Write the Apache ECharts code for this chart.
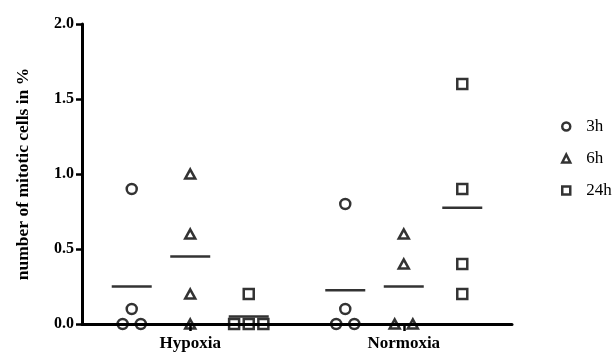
<!DOCTYPE html>
<html>
<head>
<meta charset="utf-8">
<script src="https://cdn.jsdelivr.net/npm/echarts@6/dist/echarts.min.js"></script>
<style>
  html, body { margin: 0; padding: 0; background: #fff; }
  #chart { width: 616px; height: 353px; }
</style>
</head>
<body>
<div id="chart"></div>
<script>
// groups on the x axis and the time points inside each group
const conditions = ['Hypoxia', 'Normoxia']
const times = ['3h', '6h', '24h']
const groupStart = [0.85, 4.5]

// mitotic cells in %, one list per condition (Hypoxia, Normoxia)
const values3h = [[0.9, 0.1, 0, 0], [0.8, 0.1, 0, 0]]
const values6h = [[1.0, 0.6, 0.2, 0], [0.6, 0.4, 0, 0]]
const values24h = [[0.2, 0, 0, 0], [1.6, 0.9, 0.4, 0.2]]

const yTicks = [0, 0.5, 1.0, 1.5, 2.0]

const font = 'Liberation Serif'
const symbols = ['circle', 'triangle', 'rect']
const symbolSizes = [10, [10, 9], 10]
const allValues = [values3h, values6h, values24h]

// spread points with equal values side by side
function spread (vals, center) {
  const out = []
  const seen = {}
  vals.forEach(v => {
    const n = vals.filter(w => w === v).length
    const k = seen[v] || 0
    seen[v] = k + 1
    const step = n > 2 ? 0.25 : 0.31
    out.push([center + (k - (n - 1) / 2) * step, v])
  })
  return out
}

const pointSeries = times.map((t, ti) => {
  let data = []
  conditions.forEach((c, ci) => {
    data = data.concat(spread(allValues[ti][ci], groupStart[ci] + ti))
  })
  return {
    name: t,
    type: 'scatter',
    symbol: symbols[ti],
    symbolSize: symbolSizes[ti],
    itemStyle: { color: 'rgba(0,0,0,0)', borderColor: '#000', borderWidth: 2.5 },
    emphasis: { disabled: true },
    data: data,
    z: 5
  }
})

const meanData = []
times.forEach((t, ti) => {
  conditions.forEach((c, ci) => {
    const v = allValues[ti][ci]
    meanData.push([groupStart[ci] + ti, v.reduce((a, b) => a + b, 0) / v.length])
  })
})

const option = {
  animation: false,
  backgroundColor: '#fff',
  grid: { left: 82, right: 104, top: 24, bottom: 29 },
  legend: {
    orient: 'vertical',
    left: 556,
    top: 113,
    itemWidth: 8,
    itemHeight: 8,
    itemGap: 15,
    data: times,
    itemStyle: { color: 'rgba(0,0,0,0)', borderColor: '#000', borderWidth: 2.5 },
    textStyle: { fontFamily: font, fontSize: 17, color: '#000', padding: [0, 0, 0, 11] },
    selectedMode: false
  },
  xAxis: {
    type: 'value',
    min: 0,
    max: 7.35,
    splitLine: { show: false },
    axisLine: { lineStyle: { color: '#000', width: 3 } },
    axisTick: {
      show: true,
      customValues: groupStart.map(s => s + 1),
      length: 7,
      lineStyle: { color: '#000', width: 2.5 }
    },
    axisLabel: {
      customValues: groupStart.map(s => s + 1),
      formatter: v => conditions[groupStart.findIndex(s => Math.abs(s + 1 - v) < 0.01)] || '',
      margin: 11,
      fontFamily: font,
      fontWeight: 'bold',
      fontSize: 17,
      color: '#000'
    }
  },
  yAxis: {
    type: 'value',
    min: yTicks[0],
    max: yTicks[yTicks.length - 1],
    interval: 0.5,
    name: 'number of mitotic cells in %',
    nameLocation: 'middle',
    nameGap: 50,
    nameTextStyle: { fontFamily: font, fontWeight: 'bold', fontSize: 17.5, color: '#000' },
    splitLine: { show: false },
    axisLine: { show: true, lineStyle: { color: '#000', width: 3 } },
    axisTick: { show: true, length: 6, lineStyle: { color: '#000', width: 2.5 } },
    axisLabel: {
      margin: 8,
      formatter: v => v.toFixed(1),
      fontFamily: font,
      fontWeight: 'bold',
      fontSize: 16,
      color: '#000'
    }
  },
  series: pointSeries.concat([{
    // group means
    name: 'mean',
    type: 'scatter',
    symbol: 'rect',
    symbolSize: [40, 2.5],
    itemStyle: { color: '#000' },
    emphasis: { disabled: true },
    data: meanData,
    z: 4
  }])
}

const chart = echarts.init(document.getElementById('chart'))
chart.setOption(option)
</script>
</body>
</html>
